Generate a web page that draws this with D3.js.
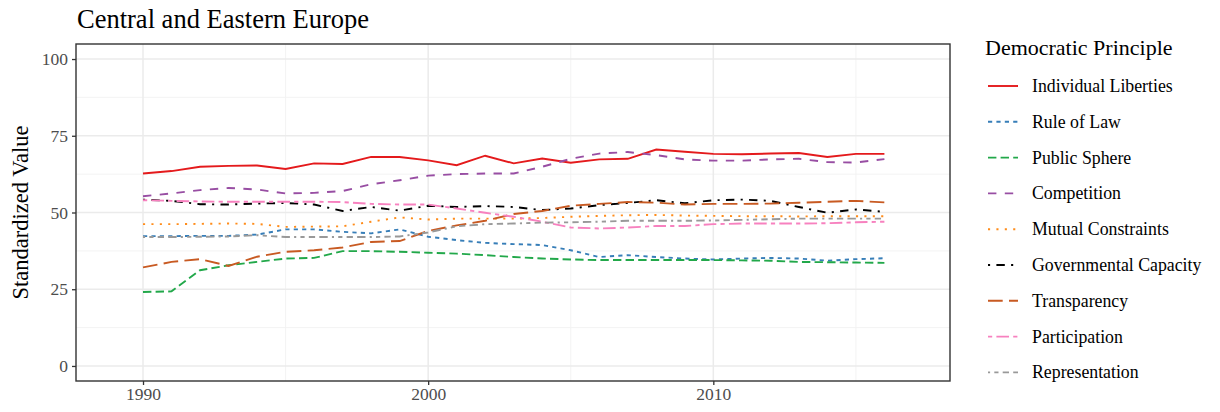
<!DOCTYPE html>
<html><head><meta charset="utf-8">
<script src="https://cdn.jsdelivr.net/npm/d3@7"></script>
<style>body{margin:0;background:#fff}svg{display:block}</style>
</head><body><svg id="c" width="1220" height="412"></svg>
<script>
const years = d3.range(1990, 2017);
const seriesNames = ["Individual Liberties","Rule of Law","Public Sphere","Competition","Mutual Constraints","Governmental Capacity","Transparency","Participation","Representation"];
const individualLiberties = [62.7,63.5,64.9,65.2,65.3,64.2,66.0,65.8,68.1,68.1,67.0,65.4,68.5,66.0,67.6,66.2,67.3,67.5,70.5,69.8,69.1,69.0,69.2,69.4,68.1,69.1,69.1];
const ruleOfLaw = [42.3,42.3,42.4,42.4,42.8,44.5,44.5,43.7,43.2,44.5,42.1,41.0,40.1,39.7,39.4,37.7,35.5,36.1,35.5,35.0,34.7,35.0,35.2,35.0,34.3,34.8,35.1];
const publicSphere = [24.1,24.3,31.2,32.8,33.9,35.0,35.2,37.4,37.4,37.2,36.9,36.6,36.1,35.5,35.0,34.7,34.5,34.5,34.5,34.5,34.5,34.4,34.3,33.9,33.8,33.7,33.6];
const competition = [55.3,56.2,57.3,58.0,57.5,56.2,56.4,57.0,59.2,60.5,62.0,62.5,62.7,62.7,64.9,67.5,69.2,69.7,68.7,67.3,66.9,66.9,67.3,67.5,66.4,66.3,67.4];
const mutualConstraints = [46.2,46.2,46.3,46.4,46.3,45.3,45.4,45.5,47.0,48.4,47.7,48.0,48.0,48.0,48.2,48.6,48.9,49.1,49.2,49.0,48.9,48.8,48.8,48.7,48.8,48.8,48.8];
const governmentalCapacity = [54.2,53.8,52.7,52.6,52.9,53.1,52.6,50.5,51.8,50.6,52.2,51.8,52.1,51.8,50.8,51.3,52.4,53.1,54.0,53.0,54.0,54.2,53.8,51.8,49.9,51.0,50.2];
const transparency = [32.1,33.9,34.8,32.6,35.6,37.2,37.7,38.6,40.4,40.7,44.0,45.8,47.3,49.5,50.5,52.2,52.8,53.4,53.2,52.6,52.8,52.8,52.9,53.2,53.5,53.8,53.3];
const participation = [54.0,53.8,53.6,53.5,53.5,53.5,53.5,53.4,52.8,52.6,52.6,51.3,49.9,48.6,47.0,45.1,44.8,45.1,45.6,45.6,46.2,46.4,46.4,46.4,46.5,46.8,47.0];
const representation = [42.0,42.0,42.1,42.2,42.6,42.0,42.0,42.0,42.0,42.2,43.5,45.5,46.2,46.4,46.7,46.8,47.0,47.3,47.3,47.3,47.4,47.6,47.8,48.0,48.0,48.0,48.0];
const yTicks = [0,25,50,75,100];
const xTicks = [1990,2000,2010];

const seriesValues = [individualLiberties,ruleOfLaw,publicSphere,competition,mutualConstraints,governmentalCapacity,transparency,participation,representation];
const colors = ["#E41A1C","#377EB8","#22A84A","#984EA3","#FF8C1A","#000000","#C85A22","#F781BF","#999999"];
const dashPatterns = ["", "2,2", "4,2", "4,4", "1,3", "1,3,4,3", "7,3", "2,2,6,2", "1,2,2,2,3,2,4,2"];
const lw = 1.9, unit = 2.1;
const scaleDash = p => p ? p.split(",").map(v => +v * unit).join(",") : null;

const svg = d3.select("#c");
const font = "'Liberation Serif', 'Times New Roman', serif";
const L = 76, R = 950, T = 44, B = 381;
const x = d3.scaleLinear().domain([1987.65, 2018.3]).range([L, R]);
const y = d3.scaleLinear().domain([-4.9, 104.9]).range([B, T]);

const g = svg.append("g");
// minor grid
[1995, 2005, 2015].forEach(v => g.append("line").attr("x1", x(v)).attr("x2", x(v)).attr("y1", T).attr("y2", B).attr("stroke", "#f2f2f2").attr("stroke-width", 0.9));
[12.5, 37.5, 62.5, 87.5].forEach(v => g.append("line").attr("x1", L).attr("x2", R).attr("y1", y(v)).attr("y2", y(v)).attr("stroke", "#f2f2f2").attr("stroke-width", 0.9));
// major grid
xTicks.forEach(v => g.append("line").attr("x1", x(v)).attr("x2", x(v)).attr("y1", T).attr("y2", B).attr("stroke", "#ebebeb").attr("stroke-width", 1.5));
yTicks.forEach(v => g.append("line").attr("x1", L).attr("x2", R).attr("y1", y(v)).attr("y2", y(v)).attr("stroke", "#ebebeb").attr("stroke-width", 1.5));

const line = d3.line().x((d, i) => x(years[i])).y(d => y(d));
seriesValues.forEach((vals, k) => {
  g.append("path").datum(vals).attr("d", line).attr("fill", "none")
    .attr("stroke", colors[k]).attr("stroke-width", lw)
    .attr("stroke-dasharray", scaleDash(dashPatterns[k]));
});

g.append("rect").attr("x", L).attr("y", T).attr("width", R - L).attr("height", B - T)
  .attr("fill", "none").attr("stroke", "#333").attr("stroke-width", 1.4);

// axes
const yAxis = svg.append("g").attr("transform", `translate(${L},0)`)
  .call(d3.axisLeft(y).tickValues(yTicks).tickSize(4).tickPadding(4));
const xAxis = svg.append("g").attr("transform", `translate(0,${B})`)
  .call(d3.axisBottom(x).tickValues(xTicks).tickFormat(d3.format("d")).tickSize(4).tickPadding(3));
[yAxis, xAxis].forEach(a => {
  a.select(".domain").remove();
  a.selectAll(".tick line").attr("stroke", "#333").attr("stroke-width", 1.3);
  a.selectAll(".tick text").attr("fill", "#4d4d4d").style("font-family", font).style("font-size", "17.5px");
});

svg.append("text").attr("x", 77).attr("y", 28).text("Central and Eastern Europe")
  .style("font-family", font).style("font-size", "26.5px").attr("fill", "#000");
svg.append("text").attr("transform", `translate(28,${(T + B) / 2}) rotate(-90)`).attr("text-anchor", "middle")
  .text("Standardized Value").style("font-family", font).style("font-size", "22.5px").attr("fill", "#000");

// legend
const lg = svg.append("g");
lg.append("text").attr("x", 985).attr("y", 55).text("Democratic Principle")
  .style("font-family", font).style("font-size", "22px").attr("fill", "#000");
seriesNames.forEach((name, k) => {
  const cy = 86 + k * 35.8;
  lg.append("line").attr("x1", 988).attr("x2", 1018).attr("y1", cy).attr("y2", cy)
    .attr("stroke", colors[k]).attr("stroke-width", lw).attr("stroke-dasharray", scaleDash(dashPatterns[k]));
  lg.append("text").attr("x", 1032).attr("y", cy + 6).text(name)
    .style("font-family", font).style("font-size", "17.8px").attr("fill", "#000");
});
</script></body></html>
